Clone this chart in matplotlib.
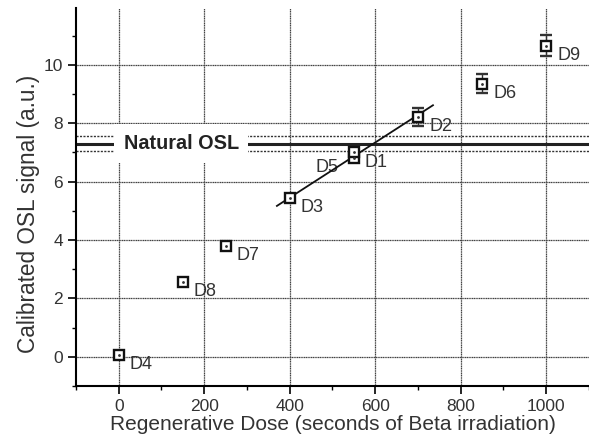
import matplotlib
matplotlib.use('Agg')
import matplotlib.pyplot as plt
from matplotlib.ticker import MultipleLocator

plt.rcParams['font.family'] = ['Liberation Sans', 'DejaVu Sans']

# data
dose = [0, 150, 250, 400, 550, 550, 700, 850, 1000]
signal = [0.05, 2.55, 3.8, 5.45, 6.8, 7.0, 8.22, 9.36, 10.65]
err = [0.0, 0.0, 0.0, 0.0, 0.12, 0.12, 0.3, 0.33, 0.36]
names = ['D4', 'D8', 'D7', 'D3', 'D5', 'D1', 'D2', 'D6', 'D9']

# linear fit around natural signal
fit_x = [370, 735]
fit_slope = 0.00945
fit_icept = 1.67

natural = 7.3
natural_err = 0.25

fig = plt.figure(figsize=(5.89, 4.41), dpi=100)
ax = fig.add_axes([0.129, 0.125, 0.871, 0.857])

ax.set_xlim(-100, 1100)
ax.set_ylim(-1, 11.95)
ax.xaxis.set_major_locator(MultipleLocator(200))
ax.xaxis.set_minor_locator(MultipleLocator(100))
ax.yaxis.set_major_locator(MultipleLocator(2))
ax.yaxis.set_minor_locator(MultipleLocator(1))
ax.grid(True, which='major', color='#444444', lw=0.9, ls=(0, (1, 0.4)))
ax.set_axisbelow(True)
for s in ['top', 'right']:
    ax.spines[s].set_visible(False)
for s in ['left', 'bottom']:
    ax.spines[s].set_linewidth(1.5)
ax.tick_params(which='major', length=6, width=1.2, labelsize=12.5, labelcolor='#333333')
ax.tick_params(which='minor', length=3, width=1.0)

# natural OSL band
ax.axhline(natural, color='#222222', lw=2.2, zorder=2)
ax.axhline(natural + natural_err, color='#333333', lw=1.0, ls=(0, (1.5, 1)), zorder=2)
ax.axhline(natural - natural_err, color='#333333', lw=1.0, ls=(0, (1.5, 1)), zorder=2)
ax.text(146, natural, 'Natural OSL', fontsize=14.3, fontweight='bold', ha='center', va='center',
        bbox=dict(facecolor='white', edgecolor='none', pad=7), zorder=3, color='#222222')

fy = [fit_icept + fit_slope * v for v in fit_x]
ax.plot(fit_x, fy, color='#111111', lw=1.3, zorder=4)

ax.errorbar(dose, signal, yerr=err, fmt='s', ms=7.5, mfc='white', mec='#111111', mew=1.7,
            ecolor='#333333', elinewidth=1, capsize=4, zorder=5)
ax.plot(dose, signal, '.', ms=2, color='#333333', zorder=6)

for x, y, n in zip(dose, signal, names):
    if n == 'D5':
        ax.annotate(n, (x, y), xytext=(-11, -7), textcoords='offset points', ha='right', va='center',
                    fontsize=13, color='#333333')
    else:
        ax.annotate(n, (x, y), xytext=(8, -7), textcoords='offset points', ha='left', va='center',
                    fontsize=13, color='#333333')

ax.set_xlabel('Regenerative Dose (seconds of Beta irradiation)', fontsize=15, color='#333333', labelpad=1)
ax.set_ylabel('Calibrated OSL signal (a.u.)', fontsize=16.3, color='#333333')
ax.yaxis.set_label_coords(-0.07, 0.455)

fig.savefig('out.png', dpi=100)
